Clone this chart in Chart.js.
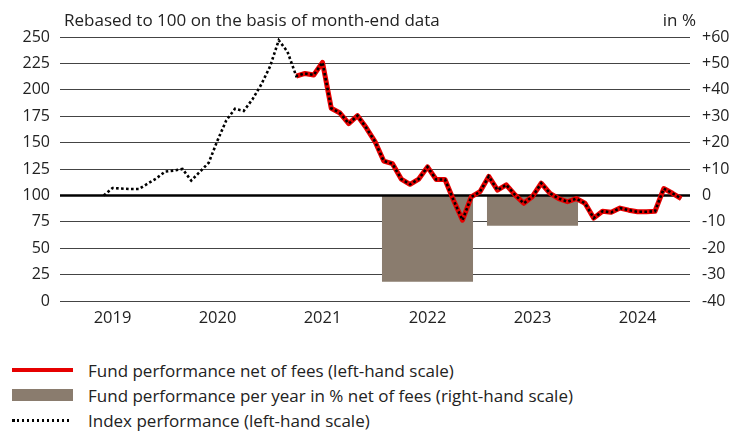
<!DOCTYPE html>
<html>
<head>
<meta charset="utf-8">
<script src="https://cdn.jsdelivr.net/npm/chart.js@4.4.1/dist/chart.umd.min.js"></script>
<style>
  body { margin: 0; background: #fff; font-family: "Open Sans", sans-serif; color: #222; }
  #wrap { position: relative; width: 744px; height: 433px; }
  #chartBox { position: absolute; left: 0; top: 0; width: 744px; height: 340px; }
  .txt { position: absolute; font-size: 17px; line-height: 20px; white-space: nowrap; }
  #title { left: 64px; top: 10px; }
  #unit { right: 48px; top: 10px; }
  #legend { position: absolute; left: 0; top: 358px; width: 744px; }
  .row { position: relative; height: 25px; }
  .sw { position: absolute; left: 12px; width: 61px; }
  .lab { position: absolute; left: 88px; top: 0; font-size: 17px; line-height: 25px; white-space: nowrap; }
</style>
</head>
<body>
<div id="wrap">
  <div id="chartBox"><canvas id="perfChart"></canvas></div>
  <div class="txt" id="title">Rebased to 100 on the basis of month-end data</div>
  <div class="txt" id="unit">in %</div>
  <div id="legend"></div>
</div>
<script>
// x axis: years, labels sit in the middle of each year
const years = ['2019', '2020', '2021', '2022', '2023', '2024'];

// month-end values, index starts end of May 2019
const indexStart = '2019-05';
const indexValues = [
  100, 107, 106.5, 106, 106, 111, 116, 122.5, 123.5, 125,
  114, 122.5, 131, 152, 171, 182, 180, 191, 205, 222,
  247, 236, 213, 215.5, 214, 226, 182.5, 178, 168, 175.5,
  164, 151, 132.5, 130, 115.5, 110.5, 115.5, 127, 115, 115,
  95, 76.5, 98.5, 103.5, 118, 105, 110, 100.5, 92.5, 99,
  111.5, 102, 97, 94, 97, 92.5, 78.5, 85, 84, 88,
  86, 84.5, 84.5, 85, 106.5, 102, 97
];

// fund starts end of March 2021
const fundStart = '2021-03';
const fundValues = [
  213, 215.5, 214, 226, 182.5, 178, 168, 175.5,
  164, 151, 132.5, 130, 115.5, 110.5, 115.5, 127, 115, 115,
  95, 76.5, 98.5, 103.5, 118, 105, 110, 100.5, 92.5, 99,
  111.5, 102, 97, 94, 97, 92.5, 78.5, 85, 84, 88,
  86, 84.5, 84.5, 85, 106.5, 102, 97
];

// calendar year performance in % (right-hand scale)
const barYears = ['2022', '2023'];
const barValues = [-32.7, -11.5];

const leftTicks = [0, 25, 50, 75, 100, 125, 150, 175, 200, 225, 250];
const rightTicks = [-40, -30, -20, -10, 0, 10, 20, 30, 40, 50, 60];

const firstYear = Number(years[0]);
function monthPos(start, i) {
  const [y, m] = start.split('-').map(Number);
  return (y - firstYear) * 12 + m + i;
}
const yearPos = y => (Number(y) - firstYear) * 12 + 6;

const RED = '#e60000';
const TAUPE = '#8a7c6e';

const zeroLine = {
  id: 'zeroLine',
  afterDatasetDraw(chart, args) {
    if (args.index !== 0) return;
    const { ctx, chartArea, scales } = chart;
    const y = scales.y.getPixelForValue(100);
    ctx.save();
    ctx.strokeStyle = '#000';
    ctx.lineWidth = 2.5;
    ctx.beginPath();
    ctx.moveTo(chartArea.left, y);
    ctx.lineTo(chartArea.right, y);
    ctx.stroke();
    ctx.restore();
  }
};

const tickFont = { family: '"Open Sans", sans-serif', size: 16 };

const chart = new Chart(document.getElementById('perfChart'), {
  type: 'bar',
  data: {
    datasets: [
      {
        type: 'bar',
        label: 'Fund performance per year in % net of fees (right-hand scale)',
        data: barYears.map((y, i) => ({ x: yearPos(y), y: barValues[i] })),
        backgroundColor: TAUPE,
        yAxisID: 'y2',
        categoryPercentage: 1,
        barPercentage: 0.867,
        order: 3
      },
      {
        type: 'line',
        label: 'Fund performance net of fees (left-hand scale)',
        data: fundValues.map((v, i) => ({ x: monthPos(fundStart, i), y: v })),
        borderColor: RED,
        borderWidth: 5,
        borderJoinStyle: 'round',
        pointRadius: 0,
        tension: 0,
        yAxisID: 'y',
        order: 2
      },
      {
        type: 'line',
        label: 'Index performance (left-hand scale)',
        data: indexValues.map((v, i) => ({ x: monthPos(indexStart, i), y: v })),
        borderColor: '#000',
        borderWidth: 2.6,
        borderDash: [2.6, 2.4],
        pointRadius: 0,
        tension: 0,
        yAxisID: 'y',
        order: 1
      }
    ]
  },
  options: {
    responsive: true,
    maintainAspectRatio: false,
    animation: false,
    layout: { padding: { top: 37, left: 0, right: 0, bottom: 0 } },
    plugins: { legend: { display: false }, tooltip: { enabled: false } },
    scales: {
      x: {
        type: 'linear',
        offset: false,
        min: 0,
        max: years.length * 12,
        grid: { display: false, offset: false, drawTicks: false },
        border: { display: false },
        afterBuildTicks: s => { s.ticks = years.map(y => ({ value: yearPos(y) })); },
        afterFit: s => { s.height = 39; },
        ticks: {
          font: { family: '"Open Sans", sans-serif', size: 16.5 },
          color: '#222',
          padding: 7,
          maxRotation: 0,
          autoSkip: false,
          callback: v => String(firstYear + Math.round((v - 6) / 12))
        }
      },
      y: {
        position: 'left',
        min: leftTicks[0],
        max: leftTicks[leftTicks.length - 1],
        afterBuildTicks: s => { s.ticks = leftTicks.map(v => ({ value: v })); },
        afterFit: s => { s.width = 60; },
        grid: { color: '#444', lineWidth: 1, drawTicks: false },
        border: { display: false },
        ticks: { font: tickFont, color: '#222', padding: 10 }
      },
      y2: {
        position: 'right',
        min: rightTicks[0],
        max: rightTicks[rightTicks.length - 1],
        afterBuildTicks: s => { s.ticks = rightTicks.map(v => ({ value: v })); },
        afterFit: s => { s.width = 54; },
        grid: { display: false, drawTicks: false },
        border: { display: false },
        ticks: {
          font: tickFont,
          color: '#222',
          padding: 12,
          callback: v => (v > 0 ? '+' + v : String(v))
        }
      }
    }
  },
  plugins: [zeroLine]
});

// legend below the chart, same order as the reference
const legend = document.getElementById('legend');
const legendItems = [
  { ds: chart.data.datasets[1], css: 'top:10px;height:4px;background:' + RED },
  { ds: chart.data.datasets[0], css: 'top:6px;height:12px;background:' + TAUPE },
  { ds: chart.data.datasets[2], css: 'top:11px;height:2.5px;width:57px;background:repeating-linear-gradient(90deg,#000 0 2.5px,transparent 2.5px 5px)' }
];
legendItems.forEach(item => {
  const row = document.createElement('div');
  row.className = 'row';
  const sw = document.createElement('div');
  sw.className = 'sw';
  sw.style.cssText = item.css;
  const lab = document.createElement('div');
  lab.className = 'lab';
  lab.textContent = item.ds.label;
  row.appendChild(sw);
  row.appendChild(lab);
  legend.appendChild(row);
});
</script>
</body>
</html>
